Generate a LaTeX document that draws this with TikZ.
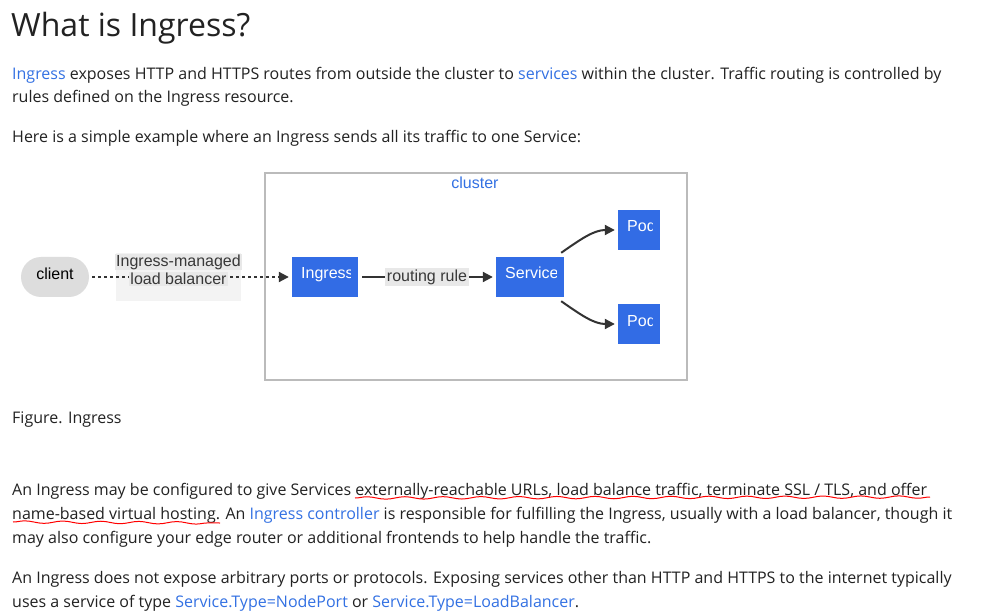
\documentclass[tikz,border=0pt]{standalone}
\usepackage{fontspec}
\usepackage{xcolor}
\usetikzlibrary{arrows.meta,positioning,decorations.pathmorphing}
\setmainfont{Open Sans}
\newfontfamily\diafont{Liberation Sans}
\definecolor{kblue}{HTML}{326CE5}
\definecolor{klink}{HTML}{3371E3}
\definecolor{ktext}{HTML}{222222}
\definecolor{karrow}{HTML}{333333}
\definecolor{kframe}{HTML}{BBBBBB}
\definecolor{kclient}{HTML}{DDDDDD}
\definecolor{klabel}{HTML}{F3F3F3}
\definecolor{klabeldark}{HTML}{E8E8E8}
\newcommand{\lnk}[1]{\textcolor{klink}{#1}}

\tikzset{
	para/.style={anchor=base west, inner sep=0pt, text=ktext, font=\fontsize{16}{24}\selectfont},
	kbox/.style={fill=kblue, minimum height=40pt, inner sep=0pt,
		path picture={
			\clip ([xshift=-8pt]path picture bounding box.north east) rectangle (path picture bounding box.south west);
			\node[anchor=base west, inner sep=0pt, minimum width=0pt, minimum height=0pt, text=white, font=\diafont\fontsize{16}{19}\selectfont]
				at ([xshift=9pt,yshift=-2pt]path picture bounding box.west) {#1};
		}},
	difont/.style={font=\diafont\fontsize{16}{19}\selectfont},
	flow/.style={draw=karrow, line width=2pt, -{Triangle[length=10pt,width=10pt]}, shorten >=3pt},
	squiggle/.style={draw=red, line width=1pt, decorate,
		decoration={snake, segment length=38pt, amplitude=1.2pt}},
}

\begin{document}
\begin{tikzpicture}[x=1pt,y=-1pt]
	\useasboundingbox[fill=white] (0,0) rectangle (1001,612);

	\node[para, font=\fontsize{32}{38}\selectfont] (title) at (11,37) {What is Ingress?};
	\node[para] (p1a) at (12,80) {\lnk{Ingress} exposes HTTP and HTTPS routes from outside the cluster to \lnk{services} within the cluster. Traffic routing is controlled by};
	\node[para] (p1b) at (12,103) {rules defined on the Ingress resource.};
	\node[para] (p2) at (12,143) {Here is a simple example where an Ingress sends all its traffic to one Service:};

	% diagram
	\node[draw=kframe, line width=2pt, minimum width=422pt, minimum height=207pt, inner sep=0pt] (cluster) at (476,276.5) {};
	\node[difont, text=klink, anchor=base] (clusterlbl) at (475,189) {cluster};
	\node[difont, fill=kclient, rounded corners=20pt, minimum width=68pt, minimum height=40pt, inner sep=0pt, text depth=7pt] (client) at (55,277) {client};
	\node[kbox=Ingress, minimum width=66pt] (ingress) at (325,277) {};
	\node[kbox=Service, minimum width=68pt] (service) at (530,277) {};
	\node[kbox=Pod, minimum width=42pt] (pod1) at (639,230) {};
	\node[kbox=Pod, minimum width=42pt] (pod2) at (639,324) {};

	\node[fill=klabel, minimum width=125pt, minimum height=48pt, inner sep=0pt] (lbbg) at (178.5,277) {};
	\draw[flow, dash pattern=on 2.5pt off 3.5pt, shorten <=3pt] (client) -- (ingress);
	\node[difont, fill=klabeldark, inner sep=1pt, text=ktext!90] (lbtop) at (178.5,262) {Ingress-managed};
	\node[difont, fill=klabeldark, inner sep=1pt, text=ktext!90] (lbbot) at (178.5,279) {load balancer};

	\draw[flow, shorten <=4pt] (ingress) -- node[difont, fill=klabeldark, inner sep=1.5pt, text=ktext!90] (rule) {routing rule} (service);
	\draw[flow] ([xshift=-3pt,yshift=4pt]service.north east) to[out=35, in=180] (pod1.west);
	\draw[flow] ([xshift=-3pt,yshift=-4pt]service.south east) to[out=-35, in=180] (pod2.west);

	\node[para] (caption) at (12,423) {Figure. Ingress};
	\node[para] (p3a) at (12,495) {An Ingress may be configured to give Services externally-reachable URLs, load balance traffic, terminate SSL / TLS, and offer};
	\node[para] (p3b) at (12,519) {name-based virtual hosting. An \lnk{Ingress controller} is responsible for fulfilling the Ingress, usually with a load balancer, though it};
	\node[para] (p3c) at (12,543) {may also configure your edge router or additional frontends to help handle the traffic.};
	\node[para] (p4a) at (12,583) {An Ingress does not expose arbitrary ports or protocols. Exposing services other than HTTP and HTTPS to the internet typically};
	\node[para] (p4b) at (12,607) {uses a service of type \lnk{Service.Type=NodePort} or \lnk{Service.Type=LoadBalancer}.};

	% hand drawn marks
	\draw[squiggle] (355,498) -- (930,497);
	\draw[squiggle] (13,522) -- (220,523);
\end{tikzpicture}
\end{document}
